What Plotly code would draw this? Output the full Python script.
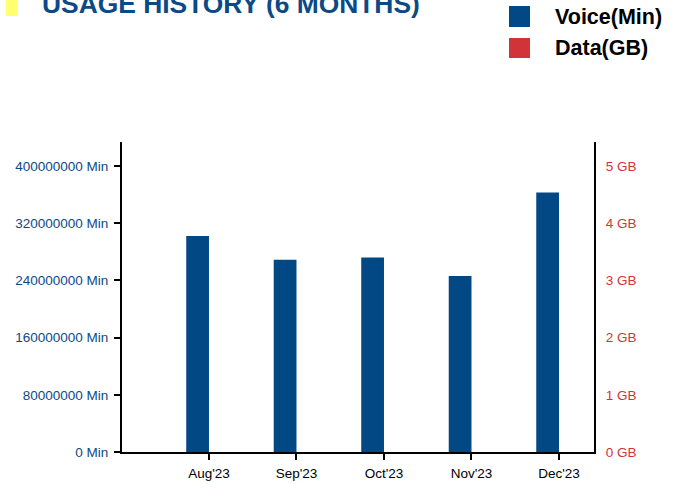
import plotly.graph_objects as go

# ---- data ----
months = ["Aug'23", "Sep'23", "Oct'23", "Nov'23", "Dec'23"]
voice_min = [302000000, 269000000, 272000000, 246000000, 363000000]
data_gb = [0, 0, 0, 0, 0]
voice_tickvals = [0, 80000000, 160000000, 240000000, 320000000, 400000000]
voice_ticktext = ["0 Min", "80000000 Min", "160000000 Min", "240000000 Min", "320000000 Min", "400000000 Min"]
data_tickvals = [0, 1, 2, 3, 4, 5]
data_ticktext = ["0 GB", "1 GB", "2 GB", "3 GB", "4 GB", "5 GB"]

BLUE = "#014885"
RED = "#d13438"
FONT = "Liberation Sans, Arial, sans-serif"

W, H = 674, 484
ML, MR, MT, MB = 122, 80, 142, 32
PW, PH = W - ML - MR, H - MT - MB


def px(x):
    return (x - ML) / PW


def py(y):
    return (H - MB - y) / PH


fig = go.Figure()
fig.add_trace(go.Bar(x=months, y=voice_min, name="Voice(Min)", marker=dict(color=BLUE, line=dict(width=0)),
                     yaxis="y", offsetgroup="1", alignmentgroup="g"))
fig.add_trace(go.Bar(x=months, y=data_gb, name="Data(GB)", marker=dict(color=RED, line=dict(width=0)),
                     yaxis="y2", offsetgroup="2", alignmentgroup="g"))

ymax = 400000000 * PH / 286.0

fig.update_layout(
    width=W, height=H,
    margin=dict(l=ML, r=MR, t=MT, b=MB, autoexpand=False),
    paper_bgcolor="white", plot_bgcolor="white",
    showlegend=False,
    barmode="group", bargap=0.48, bargroupgap=0,
    font=dict(family=FONT, size=13, color="black"),
    xaxis=dict(range=[-0.994, 4.4], showline=True, linecolor="black", linewidth=2,
               ticks="outside", ticklen=6, tickwidth=2, tickcolor="black", ticklabelstandoff=2,
               tickfont=dict(family=FONT, size=13.5, color="black"), showgrid=False, zeroline=False),
    yaxis=dict(range=[0, ymax], tickvals=voice_tickvals, ticktext=voice_ticktext,
               showline=True, linecolor="black", linewidth=2,
               ticks="outside", ticklen=6, tickwidth=2, tickcolor="black", ticklabelstandoff=3,
               tickfont=dict(family=FONT, size=13.5, color="#0b4a87"), showgrid=False, zeroline=False),
    yaxis2=dict(range=[0, ymax / 80000000], tickvals=data_tickvals, ticktext=data_ticktext,
                overlaying="y", side="right",
                showline=True, linecolor="black", linewidth=2,
                ticks="outside", ticklen=7, tickwidth=1, tickcolor="rgba(0,0,0,0)",
                tickfont=dict(family=FONT, size=13.5, color=RED), showgrid=False, zeroline=False),
)

shapes = [
    dict(type="rect", xref="paper", yref="paper", x0=px(6), x1=px(17), y0=py(16), y1=py(-2),
         fillcolor="#ffff70", line=dict(width=0)),
    dict(type="rect", xref="paper", yref="paper", x0=px(509), x1=px(530), y0=py(27), y1=py(6),
         fillcolor=BLUE, line=dict(width=0)),
    dict(type="rect", xref="paper", yref="paper", x0=px(509), x1=px(530), y0=py(58), y1=py(38),
         fillcolor=RED, line=dict(width=0)),
]
annotations = [
    dict(text="<b>USAGE HISTORY (6 MONTHS)</b>", xref="paper", yref="paper", x=px(40), y=py(4),
         xanchor="left", yanchor="middle", showarrow=False,
         font=dict(family=FONT, size=26.4, color="#0b4a87")),
    dict(text="<b>Voice(Min)</b>", xref="paper", yref="paper", x=px(553), y=py(17),
         xanchor="left", yanchor="middle", showarrow=False,
         font=dict(family=FONT, size=21.5, color="black")),
    dict(text="<b>Data(GB)</b>", xref="paper", yref="paper", x=px(553), y=py(48),
         xanchor="left", yanchor="middle", showarrow=False,
         font=dict(family=FONT, size=21.5, color="black")),
]
fig.update_layout(shapes=shapes, annotations=annotations)

fig.write_html("out.html", config={"displayModeBar": False},
               post_script="document.body.style.margin='0';document.body.style.overflow='hidden';")
